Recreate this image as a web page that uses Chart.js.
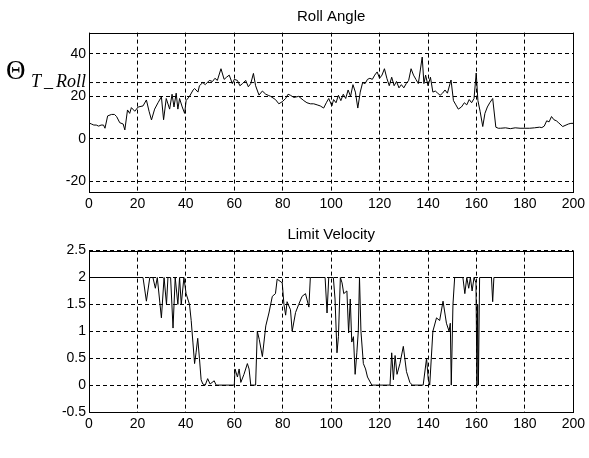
<!DOCTYPE html>
<html>
<head>
  <title>Roll Angle / Limit Velocity</title>
  <script src="https://cdn.jsdelivr.net/npm/chart.js"></script>
  <style>
    body { margin: 0; background: #fff; }
    .box { position: absolute; left: 0; }
  </style>
</head>
<body>
  <div class="box" style="top:0"><canvas id="roll" width="589" height="215"></canvas></div>
  <div class="box" style="top:215px"><canvas id="vel" width="589" height="243"></canvas></div>

  <script>
    // time axis ticks shared by both plots
    var xTicks = [0, 20, 40, 60, 80, 100, 120, 140, 160, 180, 200];

    // Roll angle
    var rollTicks = [-20, 0, 20, 40];
    var rollRef = 26.5;
    var rollT = [
      0, 1, 2, 3, 4, 5, 6, 6.6, 7.7, 9.3,
      10.5, 11.4, 12.7, 14.1, 14.8, 15.9, 16.8, 17.5, 18.9, 20.3,
      22.3, 23.7, 24.8, 25.8, 27.1, 28.5, 29.9, 30.8, 31.9, 33.3,
      34.3, 35.1, 36, 36.7, 37.4, 38.5, 39.5, 40.1, 41.5, 43,
      43.6, 45, 45.6, 47, 48, 49.7, 51, 52, 53, 54.5,
      55.8, 56.8, 57.9, 59.2, 60, 61.3, 62.3, 63.4, 64.7, 65.8,
      66.8, 67.9, 68.8, 70.2, 71.6, 73, 74, 75, 77, 78.4,
      79.8, 81.2, 82.2, 83.2, 84.6, 86.6, 88.7, 90, 91.4, 92.8,
      94.2, 95.5, 96.9, 98, 99, 100.3, 101, 102, 103, 104,
      105, 106, 107, 108, 109, 110, 111, 112, 113, 114,
      115, 116, 117, 118, 119, 120, 121, 122, 123, 124,
      125, 126, 127, 128, 129, 130, 131, 132, 133, 134,
      135, 136, 137.6, 138.3, 139, 140, 141, 142, 143, 144,
      145, 146, 147, 148, 149.5, 150.5, 151.5, 152.5, 153.8, 155,
      156, 157, 158, 159, 159.9, 160.6, 161.5, 162.6, 163.5, 164.5,
      165.5, 166.7, 168, 169, 170, 172, 174, 176, 178, 180,
      182, 184, 186, 187, 188, 189, 190, 191, 192, 193,
      194, 195.6, 197, 198, 199, 200
    ];
    var rollV = [
      7.5, 7, 6.5, 6.5, 6, 6.5, 6.5, 5, 10.8, 11.5,
      11.5, 10.5, 7.6, 7, 4.2, 13.6, 12, 14.7, 13, 15,
      15.5, 18.3, 13, 8.9, 14, 17, 19.8, 9, 19, 14,
      21, 15, 21.5, 14, 19, 15, 12, 18, 20, 23,
      23.7, 22, 25, 26.5, 25.5, 27.5, 27, 28.5, 27.5, 33,
      28, 29, 30, 26, 28, 27.5, 25, 26, 27.5, 24.5,
      26, 30.8, 25, 20.6, 22.5, 21, 20.5, 20, 18.5, 16.5,
      17.5, 19, 21, 20.5, 19.5, 20, 18, 17, 16.5, 16.5,
      16, 15.5, 14.5, 17, 19, 15.5, 18.5, 17, 20.5, 18,
      21, 19, 23, 20, 25.5, 22, 14.5, 22, 26.5, 26,
      28, 28.5, 28, 30, 31.5, 28.5, 30, 33, 28.5, 25,
      29, 25, 27, 24, 25.5, 24, 26, 27.5, 33, 30,
      28, 26, 38.5, 26, 30, 25, 29, 22, 22.5, 21.5,
      20.5, 21.5, 23, 21.5, 27.7, 18, 16, 14, 15, 17,
      16, 18.5, 17, 19, 31, 18, 13, 5.8, 12, 15,
      17, 19, 5.5, 5, 5, 5.2, 4.8, 5.2, 5, 5,
      5, 5.2, 5.5, 5.3, 6, 8.5, 8, 10.5, 9, 8.5,
      7.5, 5.8, 6.5, 7, 7.3, 7.3
    ];

    // Limit velocity
    var velTicks = [-0.5, 0, 0.5, 1, 1.5, 2, 2.5];
    var velT = [
      0, 22.3, 23.7, 25.1, 26.4, 27.4, 28.2, 29.9, 31, 32,
      32.6, 33.7, 34.7, 35.6, 36.7, 37.4, 38.1, 39.2, 40.1, 41.5,
      42.2, 42.9, 43.6, 44.2, 44.9, 45.6, 46.3, 47, 48, 49,
      50, 51.7, 52.5, 60, 60.3, 61.3, 62, 62.7, 64, 65.4,
      66.1, 66.8, 68.8, 69.5, 70.3, 71.6, 73, 74.3, 75.7, 77,
      77.7, 79.8, 80.5, 81.2, 81.8, 83.2, 83.9, 85.3, 86.6, 88,
      89.4, 90.8, 91.4, 97.5, 98.3, 99, 100.9, 101.6, 102.4, 103,
      103.8, 104.5, 105.2, 106.5, 107.2, 107.9, 108.5, 109.2, 109.9, 110.6,
      111.2, 111.7, 112.3, 113.3, 114.2, 115, 116.8, 124.3, 125, 125.7,
      126.4, 127.2, 128.4, 129.8, 131.1, 132.5, 133.5, 138, 139.4, 140.1,
      140.7, 142, 143.5, 144.8, 146.2, 147.6, 148.7, 149.2, 149.6, 150.3,
      151, 154.4, 155.2, 156, 156.8, 157.5, 158.2, 159, 159.8, 160.2,
      160.5, 160.8, 161.3, 166.2, 166.7, 167.2, 200
    ];
    var velV = [
      2, 2, 1.56, 2, 2, 1.8, 2, 1.25, 2, 1.5,
      2, 2, 1.06, 2, 1.5, 2, 1.5, 2, 1.7, 1.5,
      1.2, 0.8, 0.4, 0.6, 0.87, 0.5, 0.1, 0.02, 0, 0.12,
      0.02, 0.08, 0, 0, 0.3, 0.15, 0.3, 0.05, 0.2, 0.4,
      0.3, 0, 0, 1.0, 0.85, 0.53, 1.1, 1.34, 1.65, 1.7,
      1.97, 1.9, 1.5, 1.3, 1.55, 1.4, 1.0, 1.35, 1.5, 1.65,
      1.7, 1.45, 2, 2, 1.34, 2, 2, 1.6, 0.6, 0.9,
      2, 1.9, 1.7, 1.75, 0.97, 1.6, 0.8, 0.9, 0.2, 0.6,
      1.0, 2, 1.0, 0.4, 0.3, 0.15, 0, 0, 0.6, 0.1,
      0.55, 0.2, 0.4, 0.72, 0.25, 0.05, 0, 0, 0.5, 0.1,
      0, 1.0, 1.25, 1.2, 1.56, 1.15, 1.0, 1.15, 0, 1.5,
      2, 2, 1.7, 2, 1.8, 2, 1.75, 2, 1.9, 0,
      1.5, 0, 2, 2, 1.55, 2, 2
    ];

    function points(ts, vs) {
      return ts.map(function(t, i) { return { x: t, y: vs[i] }; });
    }

    // frame round the plot area, like the matlab axes box
    var framePlugin = {
      id: 'frame',
      afterDraw: function(chart) {
        var a = chart.chartArea, ctx = chart.ctx;
        ctx.save();
        ctx.strokeStyle = '#000';
        ctx.lineWidth = 1;
        ctx.strokeRect(Math.round(a.left) + 0.5, Math.round(a.top) + 0.5,
                       Math.round(a.right - a.left), Math.round(a.bottom - a.top));
        ctx.restore();
      }
    };

    // y label of the upper plot: Theta with subscript T_Roll
    var thetaPlugin = {
      id: 'theta',
      afterDraw: function(chart) {
        var ctx = chart.ctx;
        ctx.save();
        ctx.fillStyle = '#000';
        ctx.textBaseline = 'alphabetic';
        ctx.font = '27px "Liberation Serif", "DejaVu Serif", serif';
        ctx.fillText('\u0398', 6, 79);
        ctx.font = 'italic 18px "Liberation Serif", "DejaVu Serif", serif';
        ctx.fillText('T', 31, 87);
        ctx.fillText('_', 44, 87);
        ctx.fillText('Roll', 56, 87);
        ctx.restore();
      }
    };

    function makeChart(id, title, ts, vs, yTicks, yMin, yMax, opts) {
      var datasets = [{
        data: points(ts, vs),
        borderColor: '#000',
        borderWidth: 1,
        pointRadius: 0,
        tension: 0,
        fill: false
      }];
      if (opts.ref !== undefined) {
        datasets.push({
          data: [{ x: 0, y: opts.ref }, { x: 200, y: opts.ref }],
          borderColor: '#000',
          borderWidth: 1,
          borderDash: [4, 3],
          pointRadius: 0
        });
      }
      return new Chart(document.getElementById(id), {
        type: 'line',
        data: { datasets: datasets },
        options: {
          responsive: false,
          animation: false,
          devicePixelRatio: 1,
          layout: { padding: { left: 0, right: 13, top: opts.padTop, bottom: 0 } },
          plugins: {
            legend: { display: false },
            tooltip: { enabled: false },
            title: {
              display: true,
              text: title,
              fullSize: false,
              color: '#000',
              font: { family: 'Liberation Sans, Arial, sans-serif', size: 15, weight: 'normal' },
              padding: { top: 0, bottom: opts.titleGap }
            }
          },
          scales: {
            x: {
              type: 'linear',
              min: 0,
              max: 200,
              afterBuildTicks: function(s) { s.ticks = xTicks.map(function(v) { return { value: v }; }); },
              afterFit: function(s) { s.height = opts.xHeight; },
              border: { display: false, dash: [4, 3] },
              grid: { color: '#000', lineWidth: 1, drawTicks: false },
              ticks: {
                color: '#000',
                padding: 4,
                maxRotation: 0,
                font: { family: 'Liberation Sans, Arial, sans-serif', size: 14 },
                callback: function(v) { return String(v); }
              }
            },
            y: {
              min: yMin,
              max: yMax,
              afterBuildTicks: function(s) { s.ticks = yTicks.map(function(v) { return { value: v }; }); },
              afterFit: function(s) { s.width = 89; },
              border: { display: false, dash: [4, 3] },
              grid: { color: '#000', lineWidth: 1, drawTicks: false },
              ticks: {
                color: '#000',
                padding: 3,
                font: { family: 'Liberation Sans, Arial, sans-serif', size: 14 },
                callback: function(v) { return String(v); }
              }
            }
          }
        },
        plugins: opts.plugins
      });
    }

    var rollChart = makeChart('roll', 'Roll Angle', rollT, rollV, rollTicks, -25, 50, {
      padTop: 8, titleGap: 6.6, xHeight: 23, ref: rollRef,
      plugins: [framePlugin, thetaPlugin]
    });
    var velChart = makeChart('vel', 'Limit Velocity', velT, velV, velTicks, -0.5, 2.5, {
      padTop: 11, titleGap: 6.6, xHeight: 46,
      plugins: [framePlugin]
    });
  </script>
</body>
</html>
